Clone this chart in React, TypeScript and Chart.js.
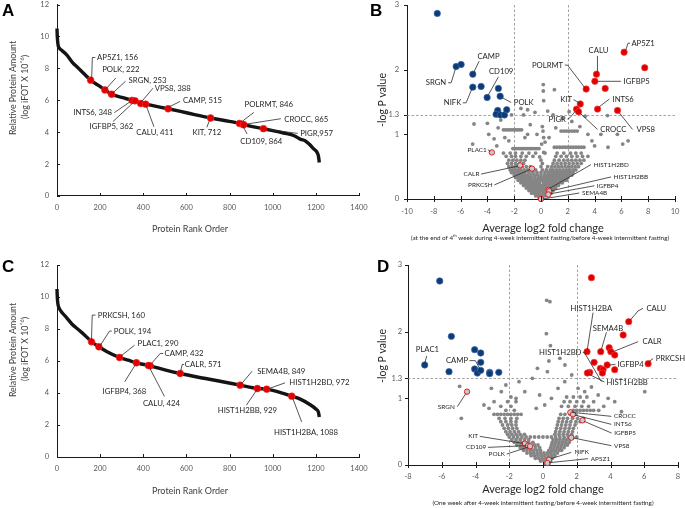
import React, { useEffect, useRef } from 'react';
import { Chart, registerables } from 'chart.js';
Chart.register(...registerables);

const FONT = 'Lato, "Open Sans", sans-serif';
const LETTER_FONT = '"Liberation Sans", Arial, sans-serif';
const W = 685;
const H = 508;

// ---------------- Panel A data ----------------
const A_RANK = [0, 1, 3, 6, 12, 25, 45, 70, 100, 130, 156, 190, 222, 253, 300, 348, 388, 411, 450, 515, 600, 712, 800, 846, 865, 957, 1000, 1050, 1100, 1130, 1150, 1170, 1190, 1205, 1212, 1216];
const A_AMOUNT = [10.5, 10.1, 9.7, 9.4, 9.25, 9.1, 8.85, 8.4, 8.0, 7.6, 7.26, 6.95, 6.65, 6.38, 6.18, 6.0, 5.82, 5.76, 5.65, 5.47, 5.22, 4.89, 4.68, 4.55, 4.47, 4.22, 4.1, 3.95, 3.78, 3.55, 3.47, 3.25, 2.95, 2.75, 2.5, 2.1];
const A_MARK_NAMES = ['AP5Z1, 156', 'POLK, 222', 'SRGN, 253', 'INTS6, 348', 'IGFBP5, 362', 'VPS8, 388', 'CALU, 411', 'CAMP, 515', 'KIT, 712', 'POLRMT, 846', 'CD109, 864', 'CROCC, 865', 'PIGR,957'];
const A_MARK_RANK = [156, 222, 253, 348, 362, 388, 411, 515, 712, 846, 864, 865, 957];
const A_MARK_AMOUNT = [7.26, 6.65, 6.38, 6.0, 5.97, 5.8, 5.76, 5.47, 4.89, 4.55, 4.47, 4.47, 4.22];

// ---------------- Panel C data ----------------
const C_RANK = [0, 1, 3, 6, 12, 25, 45, 70, 100, 130, 160, 194, 230, 290, 330, 368, 424, 432, 500, 571, 650, 750, 849, 929, 972, 1030, 1088, 1130, 1170, 1200, 1212, 1216];
const C_AMOUNT = [10.5, 10.1, 9.7, 9.45, 9.25, 9.0, 8.7, 8.3, 7.95, 7.6, 7.2, 6.89, 6.6, 6.22, 6.05, 5.89, 5.72, 5.7, 5.45, 5.22, 5.0, 4.75, 4.49, 4.28, 4.24, 4.05, 3.8, 3.6, 3.3, 3.0, 2.8, 2.5];
const C_MARK_NAMES = ['PRKCSH, 160', 'POLK, 194', 'PLAC1, 290', 'IGFBP4, 368', 'CAMP, 432', 'CALU, 424', 'CALR, 571', 'SEMA4B, 849', 'HIST1H2BB, 929', 'HIST1H2BD, 972', 'HIST1H2BA, 1088'];
const C_MARK_RANK = [160, 194, 290, 368, 432, 424, 571, 849, 929, 972, 1088];
const C_MARK_AMOUNT = [7.2, 6.89, 6.22, 5.89, 5.7, 5.72, 5.22, 4.49, 4.28, 4.24, 3.8];

// ---------------- Panel B data ----------------
const B_DOWN_NAMES = ['', 'SRGN', '', 'CAMP', 'NIFK', '', 'CD109', '', 'POLK', '', '', '', '', ''];
const B_DOWN_X = [-7.74, -6.33, -5.96, -5.09, -5.09, -4.47, -4.02, -3.18, -3.05, -3.23, -3.35, -3.03, -2.73, -2.56];
const B_DOWN_Y = [2.87, 2.05, 2.08, 1.93, 1.73, 1.74, 1.57, 1.71, 1.59, 1.37, 1.31, 1.30, 1.30, 1.38];
const B_UP_NAMES = ['AP5Z1', '', 'CALU', 'IGFBP5', '', 'POLRMT', 'KIT', 'INTS6', 'VPS8', 'PIGR', 'CROCC'];
const B_UP_X = [6.2, 7.74, 4.14, 4.02, 4.79, 3.37, 2.93, 4.22, 5.71, 2.65, 2.80];
const B_UP_Y = [2.27, 2.03, 1.93, 1.82, 1.71, 1.70, 1.47, 1.39, 1.37, 1.39, 1.35];
const B_HL_NAMES = ['PLAC1', 'CALR', 'PRKCSH', 'HIST1H2BD', 'HIST1H2BB', 'IGFBP4', 'SEMA4B'];
const B_HL_X = [-3.67, -1.56, -0.67, 0.57, 0.62, 0.55, 0.0];
const B_HL_Y = [0.72, 0.52, 0.47, 0.14, 0.12, 0.07, 0.0];
const B_GRAY_ROWS: [number, number[]][] = [
  [0.02, [-0.15, 0.1]],
  [0.05, [-0.4, -0.2, 0.05, 0.3, 0.5]],
  [0.09, [-0.7, -0.5, -0.3, -0.1, 0.15, 0.35, 0.55, 0.75]],
  [0.13, [-0.9, -0.7, -0.5, -0.3, -0.1, 0.1, 0.3, 0.5, 0.7, 0.9]],
  [0.17, [-1.1, -0.9, -0.7, -0.5, -0.3, -0.1, 0.1, 0.3, 0.5, 0.7, 0.9, 1.1]],
  [0.21, [-1.3, -1.1, -0.9, -0.7, -0.5, -0.3, -0.1, 0.1, 0.3, 0.5, 0.7, 0.9, 1.1, 1.3]],
  [0.25, [-1.5, -1.3, -1.1, -0.9, -0.7, -0.5, -0.3, -0.1, 0.2, 0.4, 0.6, 0.8, 1.0, 1.2, 1.4, 1.6]],
  [0.29, [-1.7, -1.5, -1.3, -1.1, -0.9, -0.7, -0.5, -0.3, -0.1, 0.1, 0.3, 0.5, 0.7, 0.9, 1.1, 1.3, 1.5, 1.7, 1.9]],
  [0.33, [-1.9, -1.7, -1.5, -1.3, -1.1, -0.9, -0.7, -0.45, -0.2, 0.0, 0.2, 0.4, 0.6, 0.8, 1.0, 1.2, 1.4, 1.6, 1.8, 2.0]],
  [0.37, [-2.0, -1.8, -1.6, -1.4, -1.2, -1.0, -0.75, -0.5, -0.25, 0.0, 0.25, 0.5, 0.7, 0.9, 1.1, 1.3, 1.5, 1.7, 1.9, 2.1, 2.3]],
  [0.41, [-2.2, -2.0, -1.8, -1.6, -1.4, -1.2, -0.9, -0.6, -0.3, 0.0, 0.3, 0.55, 0.8, 1.0, 1.2, 1.4, 1.6, 1.8, 2.0, 2.2, 2.4]],
  [0.45, [-2.3, -2.1, -1.9, -1.7, -1.5, -1.25, -1.0, -0.7, -0.4, 0.1, 0.4, 0.7, 0.9, 1.15, 1.4, 1.65, 1.9, 2.15, 2.4, 2.6]],
  [0.5, [-2.4, -2.15, -1.9, -1.65, -1.4, -1.1, -0.8, 0.0, 0.5, 0.8, 1.05, 1.3, 1.55, 1.8, 2.05, 2.3, 2.55, 2.8]],
  [0.55, [-2.5, -2.2, -1.9, -1.6, -1.3, 0.9, 1.2, 1.5, 1.8, 2.1, 2.4, 2.7, 3.0]],
  [0.6, [-2.4, -2.1, -1.8, -1.5, -1.2, 1.0, 1.35, 1.7, 2.0, 2.3, 2.6, 2.9, 3.2]],
  [0.66, [-2.6, -2.2, -1.9, -1.5, -1.1, -0.6, 1.1, 1.5, 1.9, 2.3, 2.7, 3.1, 3.5]],
  [0.71, [-2.8, -2.3, -1.9, -1.4, -0.9, -0.4, 0.3, 1.2, 1.7, 2.2, 2.6, 3.0]],
  [0.78, [-2.1, -1.95, -1.8, -1.65, -1.5, -1.35, -1.2, -1.05, -0.9, -0.75, -0.6, -0.45, -0.3, -0.15]],
  [0.8, [1.0, 1.2, 1.4, 1.6, 1.8, 2.0, 2.2, 2.4, 2.6, 2.8, 3.0, 3.2]],
  [1.07, [-2.8, -2.65, -2.5, -2.35, -2.2, -2.05, -1.9, -1.75, -1.6, -1.45]],
  [1.05, [1.5, 1.7, 1.9, 2.1, 2.3, 2.5, 2.7]],
];
const B_GRAY_SCATTER: [number, number][] = [
  [-5.1, 0.85], [-5.0, 1.16], [-4.0, 1.17], [-3.9, 1.0], [-3.5, 0.93], [-3.2, 1.1], [-3.0, 1.22], [-2.7, 0.95], [-2.4, 0.9], [-3.3, 0.82],
  [-2.2, 1.3], [-1.3, 1.3], [-1.0, 1.38], [-0.8, 1.15], [-0.45, 1.34], [-1.2, 0.95], [-1.0, 1.0], [-0.3, 1.0], [0.17, 1.77], [0.17, 1.67],
  [0.2, 1.52], [0.1, 1.12], [0.15, 1.05], [0.2, 0.95], [0.5, 1.36], [0.3, 0.88], [0.6, 0.95], [1.0, 1.69], [0.9, 1.3], [1.1, 1.1],
  [2.9, 1.12], [2.3, 1.2], [3.5, 1.0], [3.8, 0.9], [4.47, 1.0], [4.96, 1.29], [5.7, 1.0], [6.1, 0.85], [6.5, 0.9], [5.0, 0.8],
  [4.0, 0.82], [2.1, 1.35], [3.3, 1.28], [0.0, 0.6], [0.1, 0.55], [-0.1, 0.65], [0.2, 0.72], [0.05, 0.85], [-1.5, 1.4], [1.6, 1.25],
];

// ---------------- Panel D data ----------------
const D_DOWN_NAMES = ['', '', 'PLAC1', '', '', '', '', '', '', 'CAMP', '', '', ''];
const D_DOWN_X = [-6.12, -5.43, -7.01, -5.57, -4.05, -3.69, -3.69, -4.05, -3.89, -3.69, -3.16, -3.16, -2.62];
const D_DOWN_Y = [2.76, 1.93, 1.50, 1.40, 1.73, 1.68, 1.54, 1.44, 1.38, 1.42, 1.39, 1.37, 1.39];
const D_UP_NAMES = ['', 'CALU', '', 'HIST1H2BA', 'SEMA4B', '', 'CALR', '', '', 'IGFBP4', '', '', '', '', 'PRKCSH', 'HIST1H2BD', 'HIST1H2BB'];
const D_UP_X = [2.87, 5.08, 4.75, 2.61, 3.42, 3.92, 4.02, 4.25, 3.03, 3.80, 3.40, 3.56, 3.52, 4.25, 6.23, 2.77, 2.63];
const D_UP_Y = [2.81, 2.15, 1.95, 1.70, 1.70, 1.76, 1.70, 1.65, 1.54, 1.50, 1.45, 1.43, 1.38, 1.43, 1.52, 1.39, 1.38];
const D_HL_NAMES = ['SRGN', 'CROCC', 'INTS6', 'IGFBP5', 'VPS8', 'KIT', 'CD109', 'POLK', 'NIFK', 'AP5Z1'];
const D_HL_X = [-4.5, 1.62, 1.78, 2.34, 1.68, -1.08, -0.89, -0.77, 0.36, 0.26];
const D_HL_Y = [1.10, 0.79, 0.76, 0.67, 0.41, 0.32, 0.29, 0.28, 0.08, 0.03];
const D_GRAY_ROWS: [number, number[]][] = [
  [0.02, [0.15, 0.35]],
  [0.06, [-0.15, 0.05, 0.25, 0.45]],
  [0.1, [-0.45, -0.25, -0.05, 0.15, 0.35, 0.55]],
  [0.14, [-0.7, -0.5, -0.3, -0.1, 0.1, 0.3, 0.5, 0.7]],
  [0.18, [-0.95, -0.75, -0.55, -0.35, -0.15, 0.05, 0.25, 0.45, 0.65, 0.85]],
  [0.22, [-1.15, -0.95, -0.75, -0.55, -0.35, -0.15, 0.35, 0.55, 0.75, 0.95, 1.1]],
  [0.26, [-1.35, -1.15, -0.95, -0.7, -0.45, -0.2, 0.45, 0.65, 0.85, 1.05, 1.25]],
  [0.3, [-1.55, -1.35, -1.15, -0.5, -0.3, 0.5, 0.7, 0.9, 1.1, 1.3, 1.45]],
  [0.34, [-1.7, -1.5, -1.3, -1.1, -0.85, -0.6, 0.55, 0.75, 0.95, 1.15, 1.35, 1.55]],
  [0.38, [-1.85, -1.6, -1.35, -1.1, -0.85, 0.6, 0.8, 1.0, 1.2, 1.4, 1.6]],
  [0.42, [-2.0, -1.75, -1.5, -1.25, -1.0, -0.75, -0.5, -0.25, 0.0, 0.25, 0.5, 0.75, 1.0, 1.25, 1.5, 1.75, 2.0]],
  [0.46, [-2.1, -1.85, -1.6, -1.35, -1.1, 0.7, 0.95, 1.2, 1.45, 1.7]],
  [0.5, [-2.2, -1.95, -1.7, -1.45, 0.75, 1.0, 1.25, 1.5, 1.75]],
  [0.55, [-2.3, -2.05, -1.8, -1.55, 0.8, 1.05, 1.3, 1.55, 1.8]],
  [0.6, [-2.4, -2.1, -1.85, -1.6, 0.85, 1.1, 1.35, 1.6, 1.9]],
  [0.65, [-2.5, -2.2, -1.9, -1.6, 0.9, 1.15, 1.4, 1.65, 1.95, 2.2]],
  [0.7, [-2.6, -2.25, -1.9, -1.55, 0.95, 1.2, 1.45, 1.75, 2.05, 2.4]],
  [0.76, [-2.9, -2.7, -2.5, -2.3, -2.1, -1.9, -1.7, -1.5, -1.3, 1.05, 1.3, 1.6, 1.9]],
  [0.82, [-2.2, -1.7, 1.8, 2.0, 2.2, 2.4, 2.6, 2.8, 3.0, 3.3]],
  [0.88, [-2.5, -1.9, 1.1, 1.5, 1.9, 2.3, 2.7]],
  [0.95, [-2.1, -1.6, 1.25, 1.6, 2.0, 2.4, 3.0]],
  [1.02, [-1.9, 1.4, 1.8, 2.2, 2.6]],
];
const D_GRAY_SCATTER: [number, number][] = [
  [-4.94, 1.18], [-4.84, 0.70], [-3.06, 1.15], [-2.47, 1.10], [-1.42, 1.25], [-1.08, 1.1], [-3.5, 0.9], [-3.2, 0.85], [-2.9, 0.95],
  [0.22, 2.47], [0.41, 2.45], [0.2, 1.97], [0.44, 1.79], [0.35, 1.56], [0.26, 1.40], [-0.33, 1.45], [-0.63, 1.30], [0.89, 1.15],
  [1.29, 1.25], [2.08, 1.15], [2.47, 1.1], [2.87, 1.17], [3.27, 1.05], [3.86, 1.0], [4.25, 0.95], [6.03, 1.1], [4.65, 0.8],
  [3.6, 0.88], [-0.2, 1.05], [0.1, 0.9], [0.5, 1.0], [-0.4, 0.85], [1.3, 1.5], [1.0, 1.6], [-1.6, 1.0], [-2.2, 1.2], [1.7, 1.35],
];

const VOLCANO_Y_TICKS = [0, 1, 1.3, 2, 3];

// ---------------- annotation layout (pixel offsets from the marker) ----------------
type Lay = { p: number[][]; t: number[]; a: 'left' | 'center' | 'right' };
const A_LAYOUT: Lay[] = [
  { p: [[1, -2], [1.7, -22.7], [4.7, -22.7]], t: [6.3, -22.7], a: 'left' },
  { p: [[1.5, -1.5], [11, -12]], t: [16, -20], a: 'center' },
  { p: [[1.5, -1.5], [14, -13]], t: [17, -13.5], a: 'left' },
  { p: [[-2, 1.5], [-17.7, 12.3]], t: [-20, 12.3], a: 'right' },
  { p: [[-2, 2], [-22, 20.7]], t: [-23.7, 26], a: 'center' },
  { p: [[1, -2], [12.3, -15.3]], t: [14, -15.3], a: 'left' },
  { p: [[1, 2.7], [8.3, 22.7]], t: [9.3, 28.7], a: 'center' },
  { p: [[1.3, -2], [12, -7.3]], t: [15, -8], a: 'left' },
  { p: [[-1, 2], [-3.7, 9.3]], t: [-3.7, 14.7], a: 'center' },
  { p: [[1.7, -1.3], [14.3, -11]], t: [29.3, -18.7], a: 'center' },
  { p: [[0, 2], [3.7, 9.3]], t: [18, 16.7], a: 'center' },
  { p: [[2, -0.5], [37.3, -6]], t: [40.7, -5], a: 'left' },
  { p: [[2, 0.5], [34.3, 4.7]], t: [36.7, 4.7], a: 'left' },
];
const C_LAYOUT: Lay[] = [
  { p: [[0, -2], [0.7, -26.7], [4, -26.7]], t: [6.3, -26.7], a: 'left' },
  { p: [[1.5, -1.5], [10.7, -15.7], [13, -15.7]], t: [15, -15.7], a: 'left' },
  { p: [[1.5, -1.5], [15, -12.3]], t: [18, -14], a: 'left' },
  { p: [[-1, 2], [-11.7, 19]], t: [-12, 28.3], a: 'center' },
  { p: [[1, -2], [10, -12.3], [13, -12.3]], t: [14.3, -12.3], a: 'left' },
  { p: [[1, 2], [16, 31]], t: [13, 38.3], a: 'center' },
  { p: [[0.5, -2], [2, -9], [4, -9]], t: [4.7, -9], a: 'left' },
  { p: [[1.5, -1.5], [12, -14]], t: [17, -14], a: 'left' },
  { p: [[-1, 2], [-11, 16.7]], t: [-10, 21.7], a: 'center' },
  { p: [[2, -0.5], [18.3, -6.3]], t: [22.7, -6.3], a: 'left' },
  { p: [[1, 2], [10, 25.7]], t: [14.3, 36.7], a: 'center' },
];
const B_LAYOUT: Record<string, Lay> = {
  SRGN: { p: [[-0.7, 2.3], [-5, 16.3], [-8, 16.3]], t: [-10, 16.3], a: 'right' },
  CAMP: { p: [[1, -2], [6.3, -13]], t: [15.7, -18], a: 'center' },
  CD109: { p: [[1.3, -2.7], [11.3, -20.7]], t: [14, -25.7], a: 'center' },
  NIFK: { p: [[-1.3, 2.7], [-6.7, 15.7], [-10, 15.7]], t: [-11.5, 15.7], a: 'right' },
  POLK: { p: [[1.7, 1.3], [11, 6.3]], t: [13.7, 6.3], a: 'left' },
  POLRMT: { p: [[-1.3, -1.3], [-18.7, -24], [-21.3, -24]], t: [-23, -24], a: 'right' },
  CALU: { p: [[1, -2.3], [1, -18.3]], t: [2, -23.3], a: 'center' },
  AP5Z1: { p: [[1.7, -2.3], [4, -9], [6, -9]], t: [7.3, -9], a: 'left' },
  IGFBP5: { p: [[2.7, 0], [26, 0]], t: [28.7, 0], a: 'left' },
  KIT: { p: [[-1, -1], [-6.7, -4.3]], t: [-8.3, -4.3], a: 'right' },
  INTS6: { p: [[1.7, -2.3], [11.7, -10]], t: [15, -10], a: 'left' },
  VPS8: { p: [[1.7, 2.3], [15, 19]], t: [19, 19], a: 'left' },
  PIGR: { p: [[-1, 2], [-6.7, 8.7], [-9, 10]], t: [-10.7, 10], a: 'right' },
  CROCC: { p: [[1, 1], [19, 17.7]], t: [21.7, 17.7], a: 'left' },
  PLAC1: { p: [[-1.5, -1], [-4, -2.7]], t: [-5, -2.7], a: 'right' },
  CALR: { p: [[-2, 0.7], [-39, 8.7]], t: [-40.7, 8.7], a: 'right' },
  PRKCSH: { p: [[-2, 1], [-37.7, 16.3]], t: [-39.5, 16.3], a: 'right' },
  HIST1H2BD: { p: [[1.3, -1.7], [42.3, -25.3]], t: [45, -25.3], a: 'left' },
  HIST1H2BB: { p: [[1.7, -0.3], [61.7, -14.3]], t: [64.3, -14.3], a: 'left' },
  IGFBP4: { p: [[2, -0.7], [46, -8.7]], t: [48.3, -8.7], a: 'left' },
  SEMA4B: { p: [[1.7, 0], [38.3, -6]], t: [41, -6], a: 'left' },
};
const D_LAYOUT: Record<string, Lay> = {
  PLAC1: { p: [[0, -1.7], [2, -9]], t: [2.7, -15.7], a: 'center' },
  CAMP: { p: [[-1, -1.7], [-5.3, -9.7], [-11.3, -9.7]], t: [-12.7, -9.7], a: 'right' },
  HIST1H2BA: { p: [[0.3, -2.3], [6, -39]], t: [4.3, -43.3], a: 'center' },
  SEMA4B: { p: [[0.7, -2.3], [5.7, -19.3]], t: [7.3, -23.3], a: 'center' },
  CALU: { p: [[1.7, -1.7], [9.3, -10.7], [14.3, -13.3]], t: [17.7, -13.3], a: 'left' },
  CALR: { p: [[2.3, 0], [27.3, -10]], t: [31.7, -10], a: 'left' },
  IGFBP4: { p: [[2.7, 0], [8.3, -0.7]], t: [10.3, -0.7], a: 'left' },
  PRKCSH: { p: [[1, -2.3], [5, -5]], t: [7.5, -5], a: 'left' },
  HIST1H2BD: { p: [[11.7, 9.3], [-5.3, -19.7], [-7, -19.7]], t: [-8.3, -19.7], a: 'right' },
  HIST1H2BB: { p: [[1.7, 1.3], [17, 9]], t: [19, 9.3], a: 'left' },
  SRGN: { p: [[-1.3, 2], [-9.7, 15]], t: [-12.3, 15], a: 'right' },
  CROCC: { p: [[1.7, 0], [41, 4]], t: [43.7, 4], a: 'left' },
  INTS6: { p: [[1.7, 0.7], [38.3, 10]], t: [41, 10], a: 'left' },
  IGFBP5: { p: [[1.7, 1], [29, 12.7]], t: [31.7, 12.7], a: 'left' },
  VPS8: { p: [[1.7, 0.3], [40, 8]], t: [42.7, 8], a: 'left' },
  KIT: { p: [[-1.7, -0.3], [-45, -7.3]], t: [-46.7, -7.3], a: 'right' },
  CD109: { p: [[-1.7, 0], [-40, 1.7]], t: [-41.7, 1.7], a: 'right' },
  POLK: { p: [[-1.7, 0.7], [-23.3, 7.7]], t: [-25, 7.7], a: 'right' },
  NIFK: { p: [[1.7, -1], [22.3, -7.3]], t: [25.3, -7.3], a: 'left' },
  AP5Z1: { p: [[1.7, -0.3], [40.7, -4.3]], t: [43.3, -4.3], a: 'left' },
};

// ---------------- helpers ----------------
type Seg = { t: string; sup?: boolean };
type TextItem = { segs: Seg[]; x: number; y: number; size: number; color?: string; align?: 'left' | 'center' | 'right'; rot?: number; weight?: string; family?: string };

function drawRich(ctx: CanvasRenderingContext2D, it: TextItem) {
  const fam = it.family || FONT;
  const wt = it.weight || 'normal';
  const fontOf = (s: Seg) => `${wt} ${s.sup ? it.size * 0.62 : it.size}px ${fam}`;
  ctx.save();
  ctx.translate(it.x, it.y);
  if (it.rot) ctx.rotate(it.rot);
  const widths = it.segs.map((s) => { ctx.font = fontOf(s); return ctx.measureText(s.t).width; });
  const total = widths.reduce((a, b) => a + b, 0);
  let cx = it.align === 'left' ? 0 : it.align === 'right' ? -total : -total / 2;
  ctx.textBaseline = 'middle';
  ctx.textAlign = 'left';
  ctx.fillStyle = it.color || '#333';
  it.segs.forEach((s, i) => {
    ctx.font = fontOf(s);
    ctx.fillText(s.t, cx, s.sup ? -it.size * 0.33 : 0);
    cx += widths[i];
  });
  ctx.restore();
}

const txt = (t: string, x: number, y: number, size: number, extra: Partial<TextItem> = {}): TextItem => ({ segs: [{ t }], x, y, size, ...extra });

const decorPlugin = {
  id: 'decor',
  beforeDatasetsDraw(chart: any, _a: any, opts: any) {
    const { ctx, chartArea: ca, scales } = chart;
    const xs = scales.x, ys = scales.y;
    if (opts.guides) {
      ctx.save();
      ctx.strokeStyle = '#8a8a8a';
      ctx.lineWidth = 0.8;
      ctx.setLineDash([2.5, 2]);
      opts.guides.x.forEach((v: number) => {
        const px = Math.round(xs.getPixelForValue(v)) + 0.5;
        ctx.beginPath(); ctx.moveTo(px, ca.top); ctx.lineTo(px, ca.bottom); ctx.stroke();
      });
      opts.guides.y.forEach((v: number) => {
        const py = Math.round(ys.getPixelForValue(v)) + 0.5;
        ctx.beginPath(); ctx.moveTo(ca.left, py); ctx.lineTo(ca.right, py); ctx.stroke();
      });
      ctx.restore();
    }
  },
  afterDraw(chart: any, _a: any, opts: any) {
    const { ctx, chartArea: ca, scales } = chart;
    const xs = scales.x, ys = scales.y;
    ctx.save();
    ctx.strokeStyle = '#1a1a1a';
    ctx.lineWidth = 1;
    const tk = opts.ticks;
    xs.ticks.forEach((t: any) => {
      const px = Math.round(xs.getPixelForValue(t.value)) + 0.5;
      ctx.beginPath(); ctx.moveTo(px, ca.bottom - tk.xIn); ctx.lineTo(px, ca.bottom + tk.xOut); ctx.stroke();
    });
    ys.ticks.forEach((t: any) => {
      const py = Math.round(ys.getPixelForValue(t.value)) + 0.5;
      ctx.beginPath(); ctx.moveTo(ca.left - tk.yOut, py); ctx.lineTo(ca.left + tk.yIn, py); ctx.stroke();
    });
    ctx.strokeStyle = '#2b2b2b';
    ctx.lineWidth = 0.8;
    (opts.notes || []).forEach((n: any) => {
      const px = xs.getPixelForValue(n.x), py = ys.getPixelForValue(n.y);
      ctx.beginPath();
      n.p.forEach(([dx, dy]: number[], i: number) => (i ? ctx.lineTo(px + dx, py + dy) : ctx.moveTo(px + dx, py + dy)));
      ctx.stroke();
      drawRich(ctx, { segs: [{ t: n.text }], x: px + n.t[0], y: py + n.t[1], size: n.size, align: n.a, color: '#262626' });
    });
    (opts.texts || []).forEach((t: TextItem) => drawRich(ctx, t));
    ctx.restore();
  },
};

function scaleOpts(min: number, max: number, step: number | null, pad: number, horizontal: boolean, fixedTicks?: number[]) {
  const o: any = {
    type: 'linear',
    min, max,
    ticks: {
      padding: pad,
      color: '#595959',
      font: { family: FONT, size: 7.5 },
      maxRotation: 0,
      autoSkip: false,
      callback: (v: number) => String(v),
    },
    grid: { display: false, drawTicks: false },
    border: { display: true, color: '#1a1a1a', width: 1 },
    afterFit: horizontal
      ? (s: any) => { s.height = 20; s.paddingLeft = 0; s.paddingRight = 0; }
      : (s: any) => { s.width = 30; s.paddingTop = 0; s.paddingBottom = 0; },
  };
  if (step) o.ticks.stepSize = step;
  if (fixedTicks) o.afterBuildTicks = (s: any) => { s.ticks = fixedTicks.map((v) => ({ value: v })); };
  return o;
}

type Area = { left: number; top: number; right: number; bottom: number };
function padFor(a: Area) {
  return { left: a.left - 30, top: a.top, right: W - a.right, bottom: H - a.bottom - 20 };
}

function rankConfig(area: Area, rank: number[], amount: number[], names: string[], mr: number[], ma: number[], lay: Lay[], texts: TextItem[]) {
  const notes = names.map((nm, i) => ({ x: mr[i], y: ma[i], text: nm, size: 7.8, ...lay[i] }));
  return {
    type: 'scatter',
    data: {
      datasets: [
        {
          type: 'scatter', label: 'Highlighted proteins', data: mr.map((r, i) => ({ x: r, y: ma[i] })),
          pointRadius: 3.4, pointBackgroundColor: '#e00000', pointBorderColor: '#ff3030', pointBorderWidth: 0.6, order: 0, clip: false,
        },
        {
          type: 'line', label: 'All proteins', data: rank.map((r, i) => ({ x: r, y: amount[i] })),
          borderColor: '#141414', borderWidth: 3.4, pointRadius: 0, cubicInterpolationMode: 'monotone', order: 1, clip: false,
        },
      ],
    },
    plugins: [decorPlugin],
    options: {
      animation: false, responsive: false, maintainAspectRatio: false,
      layout: { padding: padFor(area) },
      scales: { x: scaleOpts(0, 1400, 200, 7.5, true), y: scaleOpts(0, 12, 2, 8, false) },
      plugins: {
        legend: { display: false }, tooltip: { enabled: false },
        decor: { ticks: { xIn: 3, xOut: 0, yIn: 3, yOut: 0 }, notes, texts },
      },
    },
  };
}

function volcanoConfig(area: Area, xr: number, xPad: number, yPad: number,
  down: [string[], number[], number[]], up: [string[], number[], number[]], hl: [string[], number[], number[]],
  grayRows: [number, number[]][], grayScatter: [number, number][], lay: Record<string, Lay>, texts: TextItem[]) {
  const toPts = (xs: number[], ys: number[]) => xs.map((x, i) => ({ x, y: ys[i] }));
  const gray = grayRows.flatMap(([y, xs]) => xs.map((x) => ({ x, y }))).concat(grayScatter.map(([x, y]) => ({ x, y })));
  const notes: any[] = [];
  const addNotes = ([names, xs, ys]: [string[], number[], number[]], size: number) => {
    names.forEach((nm, i) => { if (nm && lay[nm]) notes.push({ x: xs[i], y: ys[i], text: nm, size, ...lay[nm] }); });
  };
  addNotes(down, 7.7);
  addNotes(up, 7.7);
  addNotes(hl, 6.4);
  return {
    type: 'scatter',
    data: {
      datasets: [
        { label: 'Down', data: toPts(down[1], down[2]), pointRadius: 3.2, pointBackgroundColor: '#0d3b78', pointBorderColor: '#3c6aa6', pointBorderWidth: 0.7, order: 0, clip: false },
        { label: 'Up', data: toPts(up[1], up[2]), pointRadius: 3.2, pointBackgroundColor: '#dd0000', pointBorderColor: '#ff3a3a', pointBorderWidth: 0.7, order: 0, clip: false },
        { label: 'Highlighted', data: toPts(hl[1], hl[2]), pointRadius: 2.7, pointBackgroundColor: '#c9c9c9', pointBorderColor: '#e02020', pointBorderWidth: 1, order: 1, clip: false },
        { label: 'Other', data: gray, pointRadius: 1.9, pointBackgroundColor: '#858585', pointBorderWidth: 0, order: 2, clip: false },
      ],
    },
    plugins: [decorPlugin],
    options: {
      animation: false, responsive: false, maintainAspectRatio: false,
      layout: { padding: padFor(area) },
      scales: { x: scaleOpts(-xr, xr, 2, xPad, true), y: scaleOpts(0, 3, null, yPad, false, VOLCANO_Y_TICKS) },
      plugins: {
        legend: { display: false }, tooltip: { enabled: false },
        decor: { ticks: { xIn: 3, xOut: 3, yIn: 0, yOut: 3 }, guides: { x: [-2, 2], y: [1.3] }, notes, texts },
      },
    },
  };
}

const ROT = -Math.PI / 2;
const LETTER = { weight: 'bold', family: LETTER_FONT, color: '#000', align: 'left' as const };

const configA = () => rankConfig({ left: 57, top: 3, right: 359, bottom: 196 }, A_RANK, A_AMOUNT, A_MARK_NAMES, A_MARK_RANK, A_MARK_AMOUNT, A_LAYOUT, [
  txt('A', 2, 11, 17, LETTER),
  txt('Protein Rank Order', 190, 229, 9, { color: '#404040' }),
  txt('Relative Protein Amount', 13, 88, 8.8, { rot: ROT, color: '#404040' }),
  { segs: [{ t: '(log iFOT X 10' }, { t: '^6', sup: true }, { t: ')' }], x: 25, y: 87, size: 8.8, rot: ROT, color: '#404040' },
]);

const configC = () => rankConfig({ left: 57, top: 265, right: 359, bottom: 457 }, C_RANK, C_AMOUNT, C_MARK_NAMES, C_MARK_RANK, C_MARK_AMOUNT, C_LAYOUT, [
  txt('C', 2, 267, 17, LETTER),
  txt('Protein Rank Order', 190, 491, 9, { color: '#404040' }),
  txt('Relative Protein Amount', 13, 350, 8.8, { rot: ROT, color: '#404040' }),
  { segs: [{ t: '(log iFOT X 10' }, { t: '^6', sup: true }, { t: ')' }], x: 25, y: 349, size: 8.8, rot: ROT, color: '#404040' },
]);

const configB = () => volcanoConfig({ left: 407, top: 3, right: 675, bottom: 199 }, 10, 8.5, 8,
  [B_DOWN_NAMES, B_DOWN_X, B_DOWN_Y], [B_UP_NAMES, B_UP_X, B_UP_Y], [B_HL_NAMES, B_HL_X, B_HL_Y],
  B_GRAY_ROWS, B_GRAY_SCATTER, B_LAYOUT, [
    txt('B', 370, 11, 17, LETTER),
    txt('-log P value', 383, 100, 10.5, { rot: ROT, color: '#262626' }),
    txt('Average log2 fold change', 543, 228, 11, { color: '#262626' }),
    { segs: [{ t: '(at the end of 4' }, { t: 'th', sup: true }, { t: ' week during 4-week intermittent fasting/before 4-week intermittent fasting)' }], x: 540, y: 238, size: 6.3, color: '#262626' },
  ]);

const configD = () => volcanoConfig({ left: 408, top: 265, right: 678, bottom: 465 }, 8, 7.5, 6,
  [D_DOWN_NAMES, D_DOWN_X, D_DOWN_Y], [D_UP_NAMES, D_UP_X, D_UP_Y], [D_HL_NAMES, D_HL_X, D_HL_Y],
  D_GRAY_ROWS, D_GRAY_SCATTER, D_LAYOUT, [
    txt('D', 377, 267, 17, LETTER),
    txt('-log P value', 383, 356, 10.5, { rot: ROT, color: '#262626' }),
    txt('Average log2 fold change', 543, 489, 11, { color: '#262626' }),
    txt('(One week after 4-week intermittent fasting/before 4-week intermittent fasting)', 543, 503, 6.3, { color: '#262626' }),
  ]);

function Panel({ make }: { make: () => any }) {
  const ref = useRef<HTMLCanvasElement>(null);
  useEffect(() => {
    const chart = new Chart(ref.current as HTMLCanvasElement, make());
    return () => chart.destroy();
  }, [make]);
  return <canvas ref={ref} width={W} height={H} style={{ position: 'absolute', left: 0, top: 0, width: W, height: H }} />;
}

export default function App() {
  return (
    <div style={{ position: 'fixed', left: 0, top: 0, width: W, height: H, background: '#fff', overflow: 'hidden' }}>
      <Panel make={configA} />
      <Panel make={configB} />
      <Panel make={configC} />
      <Panel make={configD} />
    </div>
  );
}
